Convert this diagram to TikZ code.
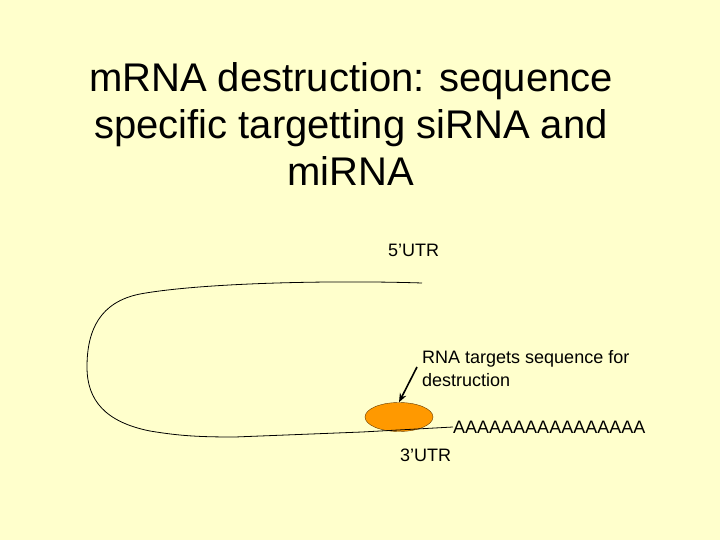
\documentclass[tikz,border=0pt]{standalone}
\usepackage{fontspec}
\setmainfont{Liberation Sans}
\usepackage{tikz}
\usetikzlibrary{shapes.geometric,arrows.meta,positioning}
\definecolor{slidebg}{HTML}{FFFFCC}
\definecolor{siorange}{HTML}{FF9900}
\tikzset{
  titletext/.style={align=center,font=\fontsize{40}{47}\selectfont},
  labeltext/.style={anchor=west,align=left,inner sep=0pt,font=\fontsize{18}{23}\selectfont},
  rnaenzyme/.style={ellipse,draw=black!60!siorange,fill=siorange,minimum width=68pt,minimum height=29pt,inner sep=0pt},
  every edge/.style={draw,-{Stealth[length=9pt,width=7pt]},line width=1.6pt},
}
\begin{document}
\begin{tikzpicture}[x=1pt,y=-1pt]
\fill[slidebg] (0,0) rectangle (720,540);
\useasboundingbox (0,0) rectangle (720,540);

\node[titletext] (title) at (351,124) {mRNA destruction: sequence\\specific targetting siRNA and\\miRNA};

\node[labeltext] (utr5) at (388,250) {5’UTR};
\node[labeltext] (note) at (422,369) {RNA targets sequence for\\destruction};
\node[labeltext] (polya) at (453,427) {AAAAAAAAAAAAAAAA};
\node[labeltext] (utr3) at (400,455) {3’UTR};

\node[rnaenzyme] (target) at (399,417) {};

\coordinate (start) at (422,283);

% the mRNA strand
\draw[line width=0.8pt] (start) .. controls (330,280) and (200,283) .. (140,294)
  .. controls (100,302) and (87,330) .. (87,367)
  .. controls (87,400) and (105,422) .. (150,431)
  .. controls (180,436) and (200,437) .. (235,437)
  -- (362,432) -- (polya.west);

\coordinate (tail) at (417,367);
\path (tail) edge (target.north);

\end{tikzpicture}
\end{document}
